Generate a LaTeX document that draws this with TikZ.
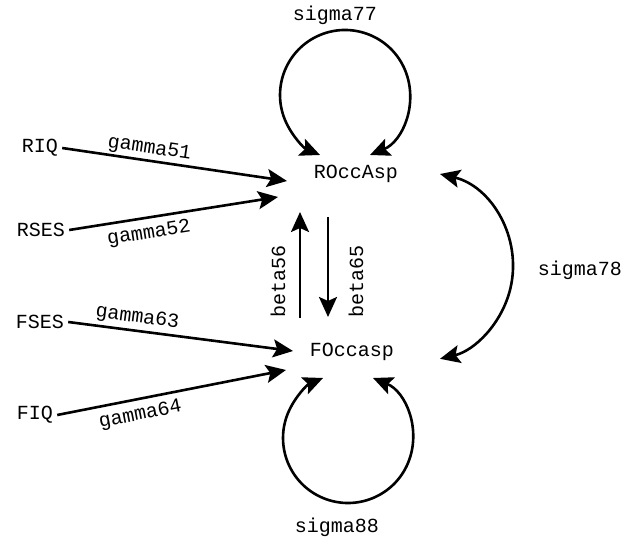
\documentclass[tikz,border=0pt]{standalone}
\usepackage{fontspec}
\setmainfont{Liberation Mono}
\usetikzlibrary{arrows.meta}
\begin{document}
\begin{tikzpicture}[x=1pt,y=1pt,
  lbl/.style={font=\fontsize{20}{22}\selectfont, inner sep=4pt},
  elbl/.style={font=\fontsize{20}{22}\selectfont, inner sep=1pt, sloped},
  tip/.style={Stealth[length=20pt,width=18pt,inset=4pt]},
  arr/.style={line width=2.6pt, -{Stealth[length=20pt,width=18pt,inset=4pt]}},
  darr/.style={line width=2.6pt, {Stealth[length=20pt,width=18pt,inset=4pt]}-{Stealth[length=20pt,width=18pt,inset=4pt]}}]
\useasboundingbox (0,0) rectangle (625,544);
% nodes
\node[lbl] (RIQ) at (40,396) {RIQ};
\node[lbl] (RSES) at (41,314) {RSES};
\node[lbl] (FSES) at (40,222) {FSES};
\node[lbl] (FIQ) at (35,129) {FIQ};
\node[lbl] (ROcc) at (356,370) {ROccAsp};
\node[lbl] (FOcc) at (352,192) {FOccasp};
\node[lbl] (s77) at (335,529) {sigma77};
\node[lbl] (s88) at (337,17) {sigma88};
\node[lbl] (s78) at (580,274) {sigma78};
% tip coordinates
\coordinate (t51) at (287,363);
\coordinate (t52) at (278,347);
\coordinate (t63) at (293,193);
\coordinate (t64) at (286,174);
\coordinate (b56s) at (300,226);
\coordinate (b56e) at (300,332);
\coordinate (b65s) at (328,327);
\coordinate (b65e) at (328,227);
\coordinate (l77) at (370,389);
\coordinate (l88) at (373,166);
\coordinate (l78) at (440,370);
% connectors
\draw[arr] (RIQ.east) -- node[elbl, pos=0.38, above=1pt] {gamma51} (t51);
\draw[arr] (RSES.east) -- node[elbl, pos=0.37, below=5pt] {gamma52} (t52);
\draw[arr] (FSES.east) -- node[elbl, pos=0.30, above=2pt] {gamma63} (t63);
\draw[arr] (FIQ.east) -- node[elbl, pos=0.35, below=5pt] {gamma64} (t64);
\draw[arr] (b56s) -- (b56e);
\draw[arr] (b65s) -- (b65e);
\node[lbl, rotate=90] (lb56) at (278,263) {beta56};
\node[lbl, rotate=90] (lb65) at (356,263) {beta65};
\draw[darr] (l77) arc[start angle=-67.4, end angle=247.4, radius=65];
\draw[darr] (l88) arc[start angle=67.4, end angle=-247.4, radius=65];
\draw[darr] (l78) arc[start angle=76.6, end angle=-76.6, radius=95];
\end{tikzpicture}
\end{document}
